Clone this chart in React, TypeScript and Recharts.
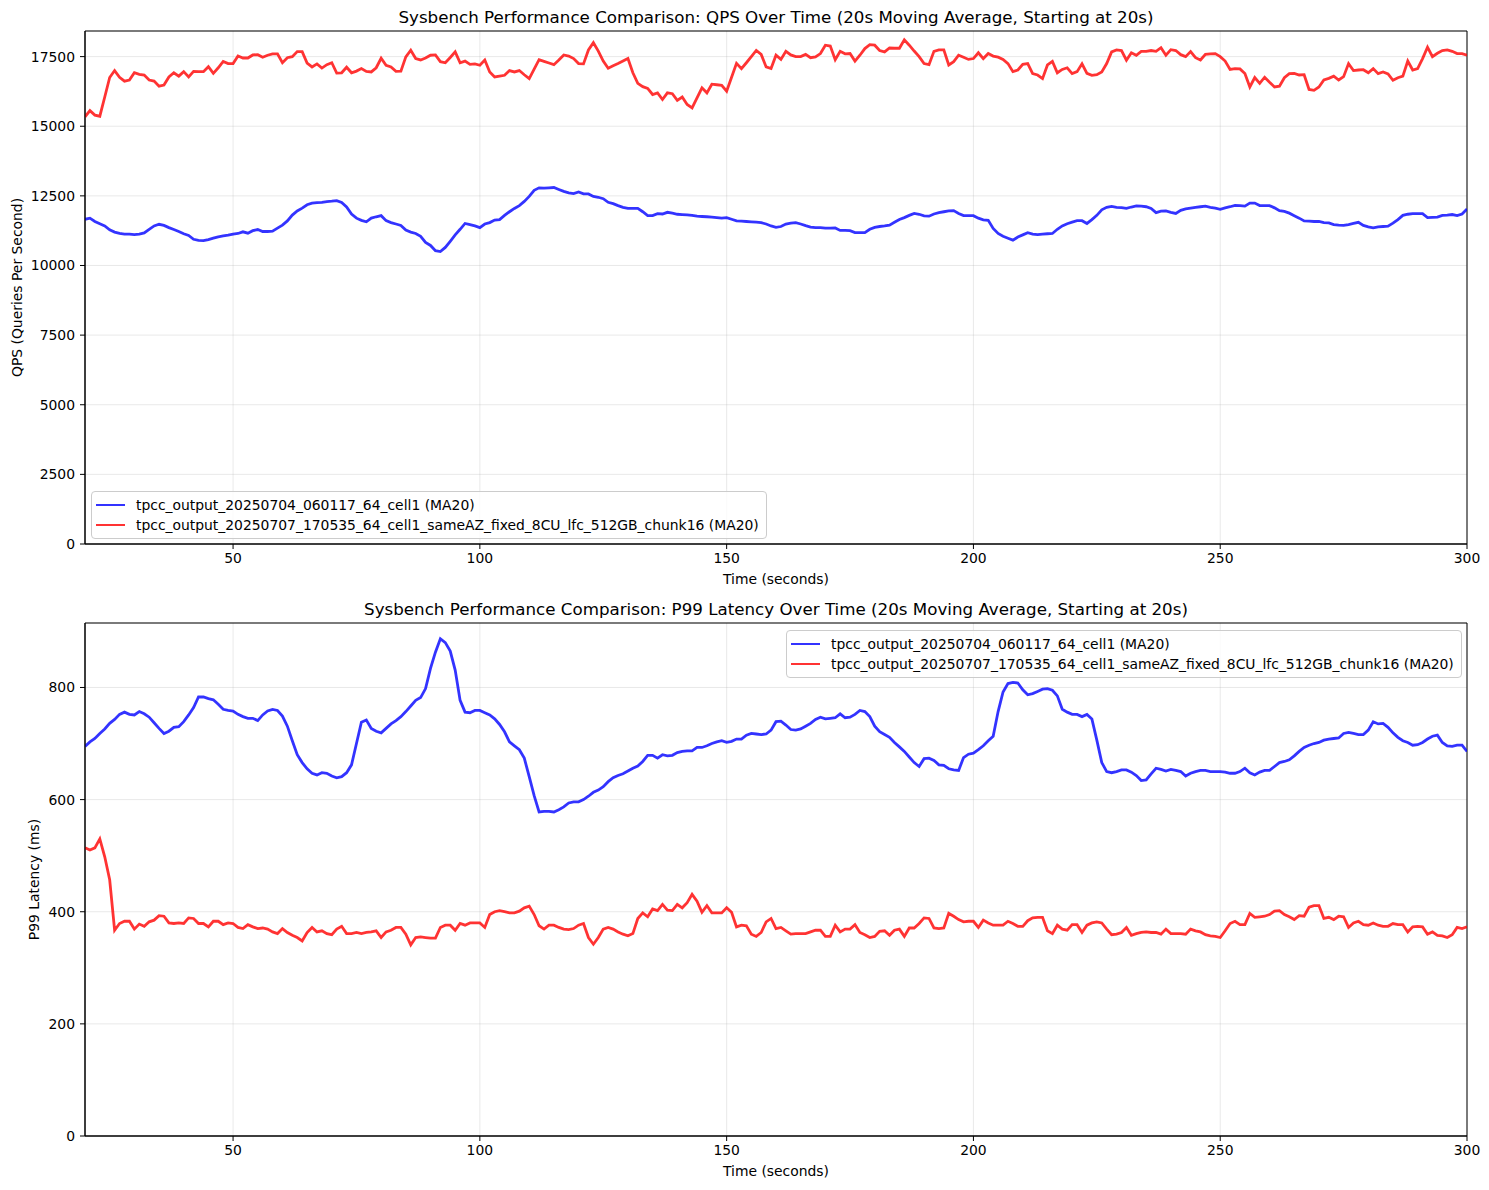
import React from 'react';
import { LineChart, Line, XAxis, YAxis, CartesianGrid, ReferenceArea, Legend } from 'recharts';

// Samples are one second apart, starting at t = 20 s (20 s moving average).
const START_SECOND = 20;
const END_SECOND = 300;

const timeTicks = [50, 100, 150, 200, 250, 300];
const qpsTicks = [0, 2500, 5000, 7500, 10000, 12500, 15000, 17500];
const latencyTicks = [0, 200, 400, 600, 800];

const baselineName = 'tpcc_output_20250704_060117_64_cell1 (MA20)';
const tunedName = 'tpcc_output_20250707_170535_64_cell1_sameAZ_fixed_8CU_lfc_512GB_chunk16 (MA20)';

// QPS, baseline run (t = 20 … 300)
const qpsBaseline = [
  11660, 11700, 11580, 11500, 11420, 11280, 11200, 11150, 11130, 11130,
  11110, 11130, 11170, 11300, 11420, 11480, 11440, 11360, 11290, 11220,
  11140, 11080, 10940, 10900, 10890, 10930, 10980, 11030, 11060, 11090,
  11130, 11150, 11210, 11160, 11250, 11290, 11220, 11220, 11230, 11340,
  11450, 11600, 11810, 11960, 12060, 12180, 12240, 12260, 12270, 12295,
  12310, 12330, 12260, 12100, 11850, 11700, 11620, 11570, 11700, 11750,
  11790, 11610, 11540, 11490, 11440, 11270, 11200, 11150, 11050, 10830,
  10720, 10530, 10500, 10650, 10870, 11100, 11300, 11510, 11470, 11420,
  11360, 11490, 11540, 11630, 11650, 11800, 11930, 12050, 12150, 12300,
  12480, 12700, 12790, 12780, 12790, 12800, 12730, 12660, 12610, 12580,
  12640, 12570, 12570, 12480, 12450, 12400, 12270, 12220, 12150, 12090,
  12050, 12050, 12050, 11930, 11790, 11790, 11860, 11850, 11910, 11880,
  11840, 11830, 11820, 11800, 11770, 11760, 11750, 11740, 11720, 11700,
  11720, 11660, 11600, 11590, 11580, 11570, 11560, 11540, 11490, 11420,
  11370, 11400, 11490, 11520, 11540, 11490, 11430, 11380, 11360, 11360,
  11340, 11340, 11350, 11260, 11260, 11250, 11180, 11180, 11180, 11300,
  11370, 11400, 11420, 11450, 11550, 11650, 11720, 11800, 11870, 11840,
  11780, 11770, 11850, 11900, 11930, 11960, 11970, 11870, 11790, 11790,
  11790, 11700, 11640, 11620, 11330, 11150, 11050, 10980, 10910, 11020,
  11100, 11180, 11130, 11110, 11130, 11140, 11150, 11300, 11420, 11500,
  11560, 11610, 11610, 11510, 11650, 11800, 12000, 12090, 12120, 12090,
  12080, 12050, 12100, 12140, 12130, 12110, 12050, 11900, 11950, 11960,
  11910, 11870, 11980, 12030, 12060, 12090, 12110, 12130, 12090, 12060,
  12020, 12070, 12110, 12160, 12150, 12130, 12240, 12240, 12150, 12150,
  12150, 12070, 11970, 11940, 11880, 11790, 11700, 11600, 11590, 11580,
  11580, 11540, 11530, 11470, 11450, 11440, 11470, 11510, 11550, 11440,
  11390, 11350, 11390, 11400, 11410, 11520, 11650, 11800, 11840, 11860,
  11860, 11860, 11720, 11730, 11740, 11800, 11810, 11830, 11790, 11850,
  12030,
];

// QPS, tuned run (t = 20 … 300)
const qpsTuned = [
  15340, 15560, 15400, 15360, 16050, 16750, 17000, 16760, 16620, 16660,
  16920, 16860, 16840, 16660, 16620, 16440, 16480, 16770, 16920, 16800,
  16960, 16770, 16970, 16960, 16960, 17140, 16900, 17100, 17330, 17250,
  17250, 17520, 17450, 17450, 17560, 17570, 17480, 17550, 17600, 17600,
  17280, 17460, 17500, 17680, 17680, 17270, 17130, 17240, 17090, 17210,
  17280, 16910, 16920, 17120, 16920, 16980, 17070, 16970, 16950, 17100,
  17440, 17190, 17130, 16970, 16980, 17490, 17730, 17430, 17380, 17450,
  17550, 17560, 17320, 17280, 17470, 17670, 17280, 17340, 17220, 17240,
  17190, 17380, 16950, 16770, 16800, 16830, 17000, 16950, 17000, 16850,
  16710, 17050, 17390, 17330, 17270, 17210, 17380, 17560, 17520, 17430,
  17250, 17240, 17740, 18000, 17700, 17340, 17080, 17170, 17250, 17340,
  17430, 16920, 16540, 16420, 16360, 16140, 16200, 15960, 16200, 16170,
  15930, 16050, 15780, 15660, 16020, 16380, 16200, 16510, 16490, 16470,
  16260, 16760, 17260, 17070, 17280, 17500, 17720, 17580, 17130, 17070,
  17550, 17400, 17690, 17560, 17500, 17500, 17580, 17460, 17490, 17610,
  17910, 17880, 17390, 17690, 17600, 17610, 17340, 17550, 17790, 17930,
  17910, 17720, 17670, 17810, 17800, 17800, 18100, 17910, 17700, 17500,
  17250, 17210, 17690, 17740, 17740, 17200, 17320, 17550, 17480, 17400,
  17430, 17640, 17430, 17610, 17520, 17480, 17400, 17250, 16960, 17020,
  17220, 17250, 16890, 16840, 16710, 17200, 17330, 16920, 17040, 17100,
  16890, 16960, 17240, 16900, 16830, 16850, 16950, 17250, 17670, 17740,
  17720, 17370, 17640, 17550, 17690, 17690, 17720, 17690, 17820, 17550,
  17750, 17720, 17570, 17500, 17680, 17460, 17380, 17580, 17600, 17610,
  17500, 17340, 17040, 17070, 17060, 16890, 16410, 16750, 16540, 16760,
  16580, 16410, 16440, 16740, 16890, 16900, 16840, 16850, 16320, 16290,
  16410, 16660, 16720, 16800, 16660, 16780, 17250, 17000, 17020, 17030,
  16920, 17070, 16890, 16950, 16880, 16650, 16740, 16800, 17340, 17020,
  17070, 17430, 17840, 17500, 17620, 17720, 17740, 17690, 17610, 17610,
  17550,
];

// P99 latency (ms), baseline run (t = 20 … 300)
const p99Baseline = [
  695, 703, 709, 718, 726, 736, 743, 752, 756, 752,
  751, 757, 753, 747, 737, 727, 718, 722, 729, 730,
  739, 751, 764, 783, 783, 780, 778, 770, 761, 759,
  758, 752, 748, 745, 745, 741, 751, 758, 761, 759,
  749, 731, 705, 680, 666, 655, 647, 644, 648, 647,
  642, 639, 641, 648, 662, 700, 738, 742, 727, 722,
  719, 727, 735, 741, 748, 757, 767, 777, 782, 798,
  834, 863, 887, 880, 865, 831, 777, 756, 755, 759,
  759, 755, 751, 744, 734, 721, 703, 696, 689, 674,
  641, 607, 578, 579, 579, 578, 582, 587, 594, 596,
  596, 600, 606, 613, 617, 623, 632, 639, 643, 646,
  651, 656, 660, 668, 679, 679, 674, 680, 678, 679,
  684, 686, 687, 687, 693, 693, 696, 700, 703, 705,
  702, 704, 708, 708, 715, 718, 717, 716, 717, 724,
  739, 740, 733, 725, 724, 726, 731, 736, 743, 747,
  744, 745, 746, 753, 746, 747, 752, 759, 757, 748,
  731, 721, 716, 711, 702, 694, 686, 676, 666, 659,
  673, 674, 670, 662, 661, 655, 653, 652, 675, 681,
  683, 689, 696, 705, 713, 757, 792, 807, 809, 808,
  796, 787, 789, 793, 797, 798, 795, 785, 761, 756,
  752, 752, 748, 752, 744, 706, 666, 650, 648, 650,
  653, 653, 649, 643, 634, 635, 646, 656, 654, 651,
  654, 652, 650, 642, 647, 650, 652, 652, 650, 650,
  650, 649, 647, 647, 650, 656, 648, 644, 649, 652,
  652, 659, 666, 668, 671, 678, 686, 693, 697, 700,
  702, 706, 708, 709, 710, 718, 720, 718, 716, 716,
  724, 739, 735, 736, 729, 719, 711, 705, 702, 697,
  698, 702, 708, 713, 715, 702, 696, 695, 697, 697,
  686,
];

// P99 latency (ms), tuned run (t = 20 … 300)
const p99Tuned = [
  514, 510, 514, 530, 498, 457, 367, 379, 383, 383,
  369, 378, 374, 382, 385, 393, 392, 380, 379, 380,
  379, 389, 388, 379, 379, 373, 383, 383, 377, 380,
  379, 372, 370, 377, 373, 370, 371, 369, 364, 361,
  370, 363, 358, 354, 348, 363, 372, 364, 366, 361,
  359, 369, 374, 361, 361, 363, 361, 363, 364, 366,
  354, 364, 367, 372, 372, 360, 341, 354, 355, 354,
  353, 353, 372, 376, 376, 367, 379, 376, 380, 380,
  380, 372, 395, 400, 402, 400, 398, 398, 401, 407,
  410, 395, 375, 369, 376, 376, 372, 369, 368, 370,
  376, 379, 354, 342, 354, 369, 372, 369, 364, 360,
  357, 361, 388, 398, 391, 405, 402, 413, 403, 402,
  413, 407, 416, 431, 419, 399, 411, 398, 398, 398,
  407, 399, 373, 376, 375, 360, 356, 363, 382, 388,
  370, 372, 366, 360, 361, 361, 361, 364, 367, 367,
  356, 356, 376, 364, 369, 369, 377, 363, 359, 354,
  356, 365, 366, 358, 367, 369, 356, 371, 371, 379,
  389, 388, 371, 370, 371, 397, 392, 386, 382, 383,
  383, 372, 385, 380, 376, 376, 376, 383, 379, 374,
  374, 384, 389, 390, 390, 366, 361, 376, 369, 367,
  377, 377, 363, 376, 380, 382, 380, 369, 359, 360,
  363, 372, 358, 361, 363, 364, 363, 363, 360, 369,
  361, 361, 361, 360, 369, 366, 364, 359, 357, 356,
  354, 366, 379, 383, 377, 377, 397, 390, 391, 392,
  395, 401, 402, 395, 391, 386, 393, 392, 408, 411,
  411, 388, 390, 386, 392, 391, 372, 380, 383, 377,
  376, 380, 376, 374, 374, 379, 377, 377, 364, 373,
  374, 373, 360, 364, 358, 357, 354, 359, 372, 370,
  373,
];

const FONT = '"DejaVu Sans", sans-serif';
const BLUE = '#0000ff';
const RED = '#ff0000';
const LINE_WIDTH = 2.8;
const W = 1489;

type Row = { t: number; baseline: number; tuned: number };

const buildRows = (a: number[], b: number[]): Row[] =>
  a.map((v, i) => ({ t: START_SECOND + i, baseline: v, tuned: b[i] }));

const qpsRows = buildRows(qpsBaseline, qpsTuned);
const latencyRows = buildRows(p99Baseline, p99Tuned);

const LegendBox = () => (
  <div
    style={{
      border: '1px solid #cccccc',
      borderRadius: 4,
      background: 'rgba(255,255,255,0.8)',
      padding: '3px 7px 3px 4px',
      fontFamily: FONT,
      fontSize: 13.9,
      color: '#000',
      whiteSpace: 'nowrap',
    }}
  >
    {[
      { name: baselineName, color: BLUE },
      { name: tunedName, color: RED },
    ].map((e) => (
      <div key={e.name} style={{ display: 'flex', alignItems: 'center', height: 20 }}>
        <span
          style={{
            display: 'inline-block',
            width: 29,
            height: 0,
            borderTop: `${LINE_WIDTH}px solid ${e.color}`,
            opacity: 0.8,
            marginRight: 11,
          }}
        />
        <span>{e.name}</span>
      </div>
    ))}
  </div>
);

const rotatedLabel = (text: string, x: number) => (props: any) => {
  const vb = props.viewBox || {};
  const cy = (vb.y || 0) + (vb.height || 0) / 2;
  return (
    <text
      x={x}
      y={cy}
      transform={`rotate(-90, ${x}, ${cy})`}
      textAnchor="middle"
      dominantBaseline="central"
      fontFamily={FONT}
      fontSize={13.9}
      fill="#000"
    >
      {text}
    </text>
  );
};

type PanelProps = {
  rows: Row[];
  height: number;
  top: number;
  plotTop: number;
  xAxisHeight: number;
  xLabelOffset: number;
  yMax: number;
  yTicks: number[];
  yLabel: string;
  yLabelX: number;
  legendLeft: number;
  legendTop: number;
};

const Panel = (p: PanelProps) => (
  <div style={{ position: 'absolute', left: 0, top: p.top }}>
    <LineChart
      width={W}
      height={p.height}
      data={p.rows}
      margin={{ top: p.plotTop, right: 22, bottom: 0, left: 0 }}
    >
      <CartesianGrid stroke="#b0b0b0" strokeOpacity={0.35} strokeWidth={0.8} />
      <XAxis
        dataKey="t"
        type="number"
        domain={[START_SECOND, END_SECOND]}
        ticks={timeTicks}
        allowDataOverflow
        height={p.xAxisHeight}
        tickSize={5}
        tickMargin={4}
        stroke="#000"
        tick={{ fill: '#000', fontFamily: FONT, fontSize: 13.9 }}
        label={{
          value: 'Time (seconds)',
          position: 'insideBottom',
          offset: p.xLabelOffset,
          fill: '#000',
          fontFamily: FONT,
          fontSize: 13.9,
        }}
      />
      <YAxis
        type="number"
        domain={[0, p.yMax]}
        ticks={p.yTicks}
        allowDataOverflow
        width={85}
        tickSize={5}
        tickMargin={5}
        stroke="#000"
        tick={{ fill: '#000', fontFamily: FONT, fontSize: 13.9 }}
        label={{ content: rotatedLabel(p.yLabel, p.yLabelX) }}
      />
      <Line
        type="linear"
        dataKey="baseline"
        name={baselineName}
        stroke={BLUE}
        strokeOpacity={0.8}
        strokeWidth={LINE_WIDTH}
        dot={false}
        isAnimationActive={false}
      />
      <Line
        type="linear"
        dataKey="tuned"
        name={tunedName}
        stroke={RED}
        strokeOpacity={0.8}
        strokeWidth={LINE_WIDTH}
        dot={false}
        isAnimationActive={false}
      />
      <ReferenceArea
        x1={START_SECOND}
        x2={END_SECOND}
        y1={0}
        y2={p.yMax}
        fill="none"
        stroke="#000"
        strokeWidth={1}
        ifOverflow="visible"
      />
      <Legend
        layout="vertical"
        align="center"
        verticalAlign="middle"
        content={() => <LegendBox />}
        wrapperStyle={{ left: p.legendLeft, top: p.legendTop, width: 'auto' }}
      />
    </LineChart>
  </div>
);

const Title = ({ text, top }: { text: string; top: number }) => (
  <div
    style={{
      position: 'absolute',
      left: 85,
      width: 1382,
      top,
      lineHeight: '20px',
      textAlign: 'center',
      fontFamily: FONT,
      fontSize: 16.7,
      color: '#000',
      whiteSpace: 'nowrap',
    }}
  >
    {text}
  </div>
);

export default function App() {
  return (
    <div
      style={{
        position: 'absolute',
        left: 0,
        top: 0,
        width: W,
        height: 1190,
        background: '#fff',
        overflow: 'hidden',
      }}
    >
      <Title
        text="Sysbench Performance Comparison: QPS Over Time (20s Moving Average, Starting at 20s)"
        top={7}
      />
      <Panel
        rows={qpsRows}
        height={590}
        top={0}
        plotTop={31}
        xAxisHeight={46}
        xLabelOffset={6}
        yMax={18420}
        yTicks={qpsTicks}
        yLabel="QPS (Queries Per Second)"
        yLabelX={17}
        legendLeft={91}
        legendTop={491}
      />
      <Title
        text="Sysbench Performance Comparison: P99 Latency Over Time (20s Moving Average, Starting at 20s)"
        top={599}
      />
      <Panel
        rows={latencyRows}
        height={600}
        top={590}
        plotTop={33}
        xAxisHeight={54}
        xLabelOffset={14}
        yMax={915}
        yTicks={latencyTicks}
        yLabel="P99 Latency (ms)"
        yLabelX={34}
        legendLeft={786}
        legendTop={40}
      />
    </div>
  );
}
